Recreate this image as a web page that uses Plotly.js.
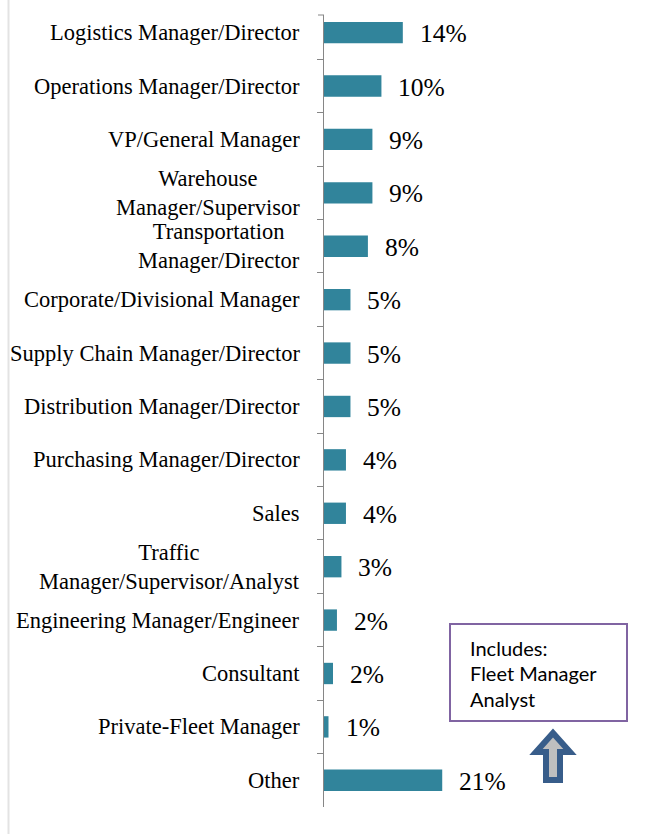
<!DOCTYPE html>
<html>
<head>
<meta charset="utf-8">
<script src="https://cdn.plot.ly/plotly-3.0.1.min.js"></script>
<style>html,body{margin:0;padding:0;background:#fff;}#chart{width:652px;height:834px;}</style>
</head>
<body>
<div id="chart"></div>
<script>
// ---- data ----
const categories = [
  "Logistics Manager/Director",
  "Operations Manager/Director",
  "VP/General Manager",
  "Warehouse<br>Manager/Supervisor",
  "Transportation<br>Manager/Director",
  "Corporate/Divisional Manager",
  "Supply Chain Manager/Director",
  "Distribution Manager/Director",
  "Purchasing Manager/Director",
  "Sales",
  "Traffic<br>Manager/Supervisor/Analyst",
  "Engineering Manager/Engineer",
  "Consultant",
  "Private-Fleet Manager",
  "Other"
];
const values = [14.0, 10.2, 8.6, 8.6, 7.8, 4.7, 4.7, 4.7, 3.9, 3.9, 3.1, 2.3, 1.6, 0.8, 21.0];
const valueLabels = ["14%", "10%", "9%", "9%", "8%", "5%", "5%", "5%", "4%", "4%", "3%", "2%", "2%", "1%", "21%"];
const noteLines = ["Includes:", "Fleet Manager", "Analyst"];

// ---- geometry helpers (pixel -> paper) ----
const L = 324, R = 12, T = 15, B = 27, FW = 652, FH = 834;
const W = FW - L - R, PH = FH - T - B;
const pxX = x => (x - L) / W;
const pxY = y => (T + PH - y) / PH;

const serif = "Liberation Serif";
const sans = "Lato";

const trace = {
  type: "bar",
  orientation: "h",
  x: values,
  y: categories,
  width: 0.4,
  marker: {color: "#31849B", line: {width: 0}},
  hoverinfo: "none"
};

const annotations = [];
categories.forEach((c, i) => {
  annotations.push({
    xref: "paper", yref: "y", x: 0, y: c,
    xanchor: "right", yanchor: "middle", xshift: -22,
    text: c, showarrow: false, align: "center",
    font: {family: serif, size: 22.5, color: "#000"}
  });
  annotations.push({
    xref: "x", yref: "y", x: values[i], y: c,
    xanchor: "left", yanchor: "middle", xshift: 15, yshift: -1,
    text: valueLabels[i], showarrow: false,
    font: {family: serif, size: 25.5, color: "#000"}
  });
});
const noteY = [648, 673, 699];
noteLines.forEach((t, i) => {
  annotations.push({
    xref: "paper", yref: "paper", x: pxX(468), y: pxY(noteY[i]),
    xanchor: "left", yanchor: "middle",
    text: t, showarrow: false, align: "left",
    font: {family: sans, size: 20, color: "#000"}
  });
});

const arrowPts = [[553,733],[570,752],[560,752],[560,780],[546,780],[546,752],[536,752]];
const arrowPath = "M " + arrowPts.map(p => pxX(p[0]).toFixed(5) + " " + pxY(p[1]).toFixed(5)).join(" L ") + " Z";

const shapes = [
  {type: "line", xref: "paper", yref: "paper", x0: pxX(8.5), x1: pxX(8.5), y0: pxY(0), y1: pxY(834),
   line: {color: "#e3e3e3", width: 2}},
  {type: "line", xref: "paper", yref: "paper", x0: pxX(318), x1: pxX(324), y0: 1, y1: 1,
   line: {color: "#868686", width: 1}},
  {type: "rect", xref: "paper", yref: "paper", x0: pxX(450), x1: pxX(627), y0: pxY(624), y1: pxY(721),
   line: {color: "#8064A2", width: 2}, fillcolor: "#ffffff"},
  {type: "path", xref: "paper", yref: "paper", path: arrowPath,
   line: {color: "#385D8A", width: 6}, fillcolor: "#BFBFBF"}
];

const layout = {
  width: FW, height: FH,
  margin: {l: L, r: R, t: T, b: B, pad: 0},
  paper_bgcolor: "#fff", plot_bgcolor: "#fff",
  showlegend: false,
  bargap: 0.6,
  xaxis: {range: [0, W / 5.63], visible: false, fixedrange: true},
  yaxis: {
    type: "category",
    categoryorder: "array", categoryarray: categories,
    range: [14.5, -0.33],
    showticklabels: false,
    showline: true, linecolor: "#868686", linewidth: 1,
    ticks: "outside", ticklen: 6, tickcolor: "#868686", tickwidth: 1,
    tickson: "boundaries",
    showgrid: false, zeroline: false, fixedrange: true
  },
  annotations: annotations,
  shapes: shapes
};

Plotly.newPlot("chart", [trace], layout, {displayModeBar: false, staticPlot: true});
</script>
</body>
</html>
